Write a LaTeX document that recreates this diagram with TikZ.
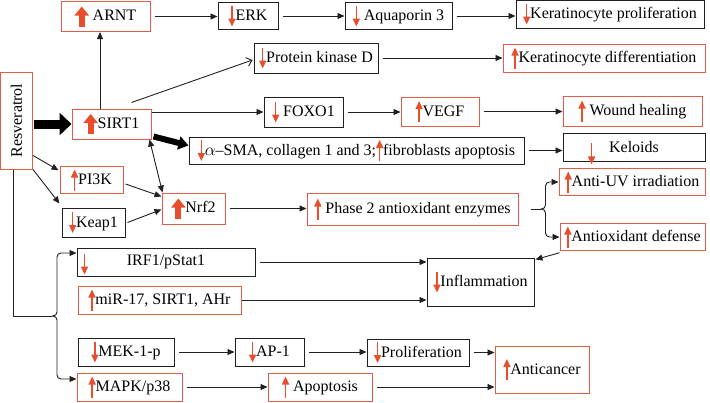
\documentclass[tikz,border=0pt]{standalone}
\usepackage{fontspec}
\setmainfont{Liberation Serif}
\usepackage{tikz}
\usetikzlibrary{arrows.meta,calc}
\definecolor{rsred}{RGB}{232,77,45}
\definecolor{boxred}{RGB}{226,92,72}
\definecolor{lnblack}{RGB}{35,31,32}

% small red up/down marks and the fat up mark
\newcommand{\reddn}{\tikz[baseline=0pt]\draw[line width=1.5pt,rsred,-{Triangle[length=8pt,width=7pt]}] (0,15pt) -- (0,-6pt);}
\newcommand{\redup}{\tikz[baseline=0pt]\draw[line width=1.5pt,rsred,-{Triangle[length=8pt,width=7pt]}] (0,-6pt) -- (0,15pt);}
\newcommand{\fatup}{\tikz[baseline=0pt]\draw[line width=6pt,rsred,-{Triangle[length=9pt,width=14pt]}] (0,-6pt) -- (0,14pt);}

\begin{document}
\begin{tikzpicture}[x=1pt,y=-1pt,
    font=\fontsize{16}{18}\selectfont,
    bbox/.style={draw=lnblack,line width=1pt,inner sep=2pt},
    rbox/.style={draw=boxred,line width=1pt,inner sep=2pt},
    sz/.style 2 args={minimum width=#1pt,minimum height=#2pt},
    arr/.style={draw=lnblack,line width=0.9pt,-{Triangle[length=7pt,width=6pt]}},
    lgap/.style={shorten <=4pt},
    fatarr/.style={draw=black,line width=9pt,-{Triangle[length=12pt,width=22pt]}}]
    \useasboundingbox (0,0) rectangle (710,402);

    % draw top rows
    \node[rbox,sz={89}{27}] (arnt) at (105.5,16.5) {\fatup\ ARNT};
    \node[bbox,sz={60}{26}] (erk) at (248,16) {\reddn ERK};
    \node[bbox,sz={107}{26}] (aqp) at (398.5,16) {\reddn\ Aquaporin 3};
    \node[bbox,sz={188}{28}] (kprol) at (610,14) {\reddn Keratinocyte proliferation};
    \node[bbox,sz={124}{30}] (pkd) at (316,58) {\reddn Protein kinase D};
    \node[rbox,sz={202}{28}] (kdiff) at (604,58) {\redup Keratinocyte differentiation};

    % draw resveratrol and SIRT1 branch
    \node[rbox,sz={32}{97}] (resv) at (16.5,120.5) {\rotatebox{90}{Resveratrol}};
    \node[rbox,sz={79}{30}] (sirt) at (111.5,124) {\fatup SIRT1};
    \node[bbox,sz={79}{30}] (foxo) at (303.5,112) {\reddn\ FOXO1};
    \node[rbox,sz={78}{29}] (vegf) at (440,111.5) {\redup VEGF};
    \node[rbox,sz={139}{30}] (wound) at (632.5,111) {\redup\ Wound healing};
    \node[bbox,sz={335}{27}] (sma) at (356.5,150.5) {\reddn$\alpha$--SMA, collagen 1 and 3;\redup fibroblasts apoptosis};
    \node[bbox,sz={142}{28}] (keloid) at (634,147) {\makebox[0pt][r]{\smash{\raisebox{-6pt}{\reddn}}\hspace{14pt}}Keloids};

    % draw Nrf2 branch
    \node[rbox,sz={63}{26}] (pi3k) at (91.5,180) {\redup PI3K};
    \node[bbox,sz={63}{29}] (keap) at (93.5,222.5) {\reddn Keap1};
    \node[rbox,sz={63}{31}] (nrf) at (193.5,208.5) {\fatup Nrf2};
    \node[rbox,sz={211}{32}] (phase) at (412.5,209) {\redup\ Phase 2 antioxidant enzymes};
    \node[rbox,sz={146}{24}] (antiuv) at (632,182) {\redup Anti-UV irradiation};
    \node[rbox,sz={145}{26}] (antiox) at (632.5,237) {\redup Antioxidant defense};

    % draw lower rows
    \node[bbox,sz={178}{28}] (irf) at (166,262) {\makebox[170pt]{\rlap{\smash{\raisebox{-3pt}{\reddn}}}\hfill IRF1/pStat1\hfill}};
    \node[rbox,sz={163}{28}] (mir) at (159.5,300) {\redup miR-17, SIRT1, AHr};
    \node[bbox,sz={107}{48}] (infl) at (480.5,282) {\reddn Inflammation};
    \node[bbox,sz={96}{28}] (mek) at (126,352) {\reddn MEK-1-p};
    \node[bbox,sz={69}{28}] (ap1) at (269.5,352) {\reddn AP-1};
    \node[bbox,sz={102}{27}] (prolif) at (418,352.5) {\reddn Proliferation};
    \node[rbox,sz={94}{47}] (anticancer) at (542,369.5) {\redup Anticancer};
    \node[rbox,sz={105}{28}] (mapk) at (129.5,387) {\redup MAPK/p38};
    \node[rbox,sz={104}{28}] (apop) at (320,387) {\redup\ Apoptosis};

    % draw arrows
    \draw[arr,lgap] (arnt.east) -- (arnt.east -| erk.west);
    \draw[arr,lgap] (erk.east) -- (aqp.west);
    \draw[arr,lgap] (aqp.east) -- (aqp.east -| kprol.west);
    \draw[arr] ([xshift=-11.5pt]sirt.north) -- ([xshift=-5.5pt]arnt.south);
    \draw[draw=lnblack,line width=0.9pt,-{Straight Barb[length=5pt,width=9pt]}] ([xshift=20pt,yshift=6pt]sirt.north) -- ([xshift=-1pt,yshift=-2pt]pkd.west);
    \draw[arr,lgap] (pkd.east) -- (kdiff.west);
    \draw[arr] (sirt.east |- foxo.west) -- (foxo.west);
    \draw[arr,lgap] (foxo.east) -- (foxo.east -| vegf.west);
    \draw[arr,lgap] (vegf.east) -- (vegf.east -| wound.west);
    \draw[fatarr,shorten <=1pt] (resv.east |- sirt.west) -- (sirt.west);
    \draw[draw=black,line width=6pt,-{Triangle[length=10pt,width=13pt]}] ([xshift=2pt,yshift=3pt]sirt.south east) -- ([yshift=5pt]sma.west);
    \draw[arr,lgap] (sma.east) -- (sma.east -| keloid.west);
    \draw[arr] ([yshift=14pt]resv.south east) -- ([xshift=-1pt,yshift=-4pt]pi3k.north west);
    \draw[arr] (resv.south east) -- ([xshift=-2pt,yshift=4pt]keap.north west);
    \draw[arr] ([xshift=2pt,yshift=-4pt]pi3k.east) -- ([yshift=12pt]nrf.west);
    \draw[arr] ([xshift=2pt]keap.east) -- ([yshift=-1pt]nrf.west);
    \draw[arr,{Triangle[length=7pt,width=6pt]}-{Triangle[length=7pt,width=6pt]}] ([xshift=-2pt]sirt.south east) -- ([xshift=1pt]nrf.north west);
    \draw[arr,lgap] (nrf.east) -- (nrf.east -| phase.west);

    % brace after phase 2
    \coordinate (ptip) at ($(phase.east)+(22,0)$);
    \draw[draw=lnblack,line width=0.9pt] ([xshift=12pt]phase.east) -- (ptip);
    \draw[arr,rounded corners=4pt] (ptip) -- ++(5,0) |- (antiuv.west);
    \draw[arr,rounded corners=4pt] (ptip) -- ++(5,0) |- (antiox.west);
    \draw[arr] ([yshift=-2pt]antiox.south west) -- ([xshift=1pt,yshift=-2pt]infl.north east);

    % brace below resveratrol
    \coordinate (rtip) at (52,316);
    \draw[draw=lnblack,line width=0.9pt] ([xshift=-3pt]resv.south) |- (rtip);
    \draw[arr,rounded corners=4pt] (rtip) -- ++(5,0) |- ([yshift=9pt]irf.west);
    \draw[arr,rounded corners=4pt] (rtip) -- ++(5,0) |- ([yshift=8pt]mapk.west);

    \draw[arr,lgap] (irf.east) -- (irf.east -| infl.west);
    \draw[arr] (mir.east) -- (mir.east -| infl.west);
    \draw[arr,lgap] (mek.east) -- (mek.east -| ap1.west);
    \draw[arr,lgap] (ap1.east) -- (ap1.east -| prolif.west);
    \draw[arr,lgap] (prolif.east) -- (prolif.east -| anticancer.west);
    \draw[arr,lgap] (mapk.east) -- (mapk.east -| apop.west);
    \draw[arr,lgap] (apop.east) -- (apop.east -| anticancer.west);
\end{tikzpicture}
\end{document}
